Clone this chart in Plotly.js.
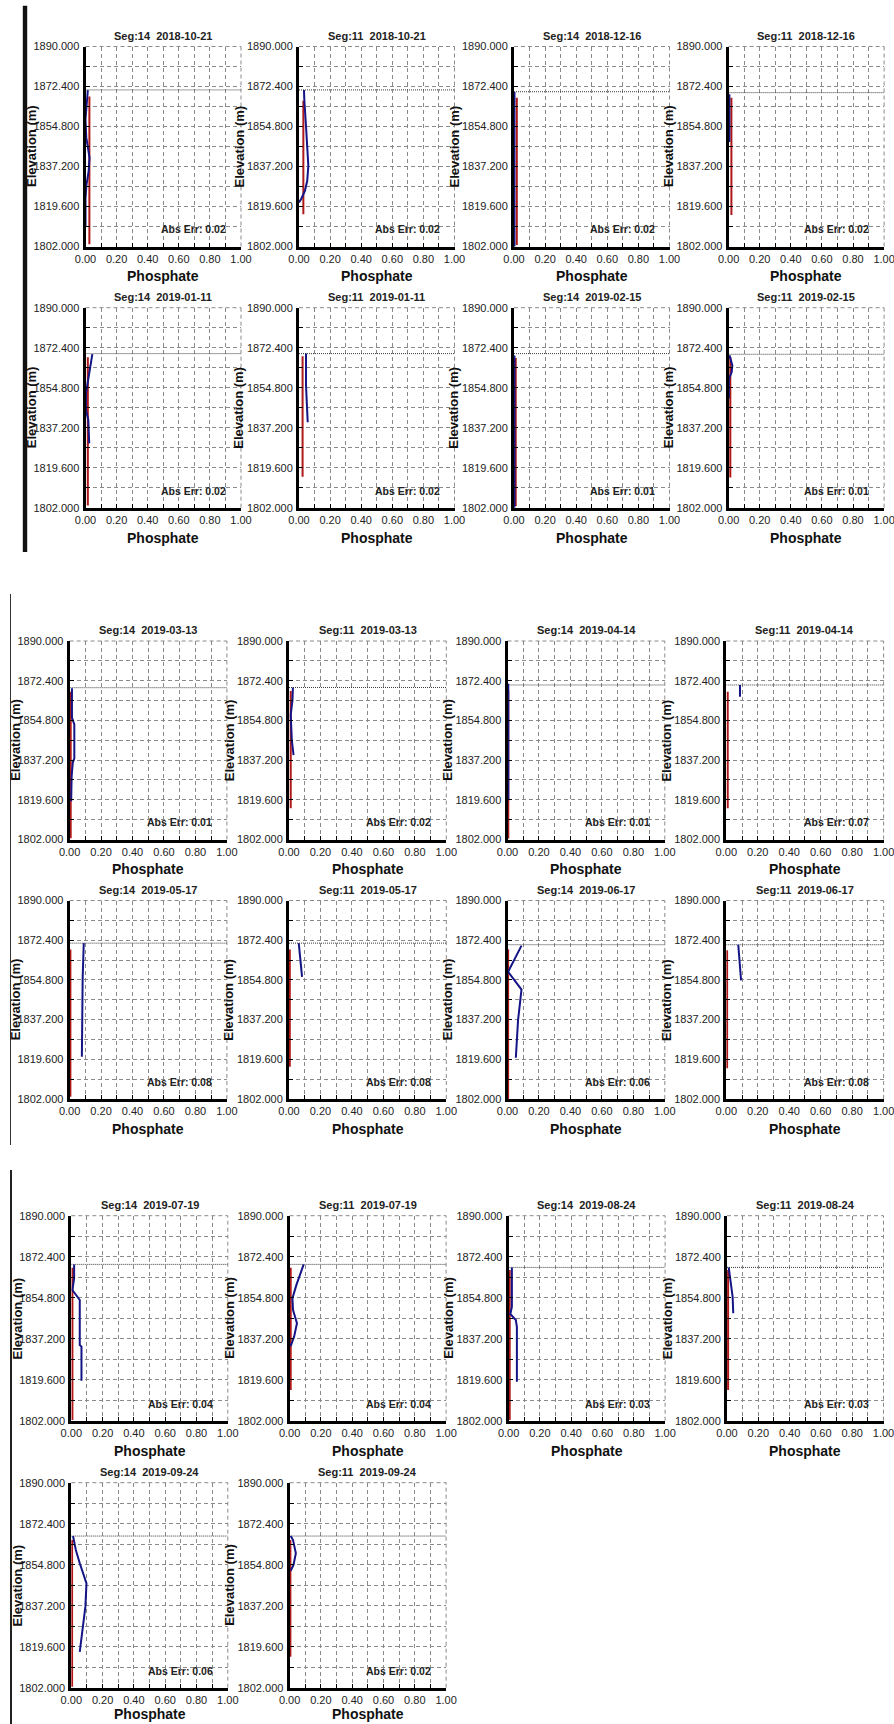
<!DOCTYPE html>
<html><head><meta charset="utf-8">
<script src="https://cdn.plot.ly/plotly-3.0.1.min.js"></script>
<style>html,body{margin:0;padding:0;background:#fff;}#chart{width:894px;height:1724px;}</style>
</head><body><div id="chart"></div>
<script>
// ---------------- data ----------------
const segments = [14,11,14,11, 14,11,14,11, 14,11,14,11, 14,11,14,11, 14,11,14,11, 14,11];
const dates = ["2018-10-21","2018-10-21","2018-12-16","2018-12-16",
               "2019-01-11","2019-01-11","2019-02-15","2019-02-15",
               "2019-03-13","2019-03-13","2019-04-14","2019-04-14",
               "2019-05-17","2019-05-17","2019-06-17","2019-06-17",
               "2019-07-19","2019-07-19","2019-08-24","2019-08-24",
               "2019-09-24","2019-09-24"];
const absErr = [0.02,0.02,0.02,0.02, 0.02,0.02,0.01,0.01, 0.01,0.02,0.01,0.07,
                0.08,0.08,0.06,0.08, 0.04,0.04,0.03,0.03, 0.06,0.02];
// water surface elevation (dotted line)
const wse = [1870.9,1870.9,1870.1,1869.7, 1869.8,1869.8,1869.8,1869.5,
             1869.3,1869.4,1870.5,1870.5, 1871.1,1871.1,1870.4,1870.4,
             1869.1,1869.1,1867.8,1867.8, 1867.1,1867.1];
// observed (red) vertical line
const obsX = [0.025,0.028,0.018,0.018, 0.015,0.023,0.011,0.011,
              0.007,0.011,0.005,0.009, 0.005,0.005,0.004,0.005,
              0.007,0.007,0.007,0.007, 0.005,0.005];
const obsTop = [1868,1866.1,1867.5,1867.5, 1868.2,1868.6,1867.9,1868.3,
                1867.5,1867.8,1868.2,1867.5, 1868.3,1868.3,1868.4,1867.9,
                1867.7,1867.7,1866.7,1866.7, 1865.4,1865.4];
const obsBottom = [1803,1816.2,1802.7,1815.9, 1803,1815.6,1802.7,1815.3,
                   1802.6,1815.8,1802.4,1815.8, 1803,1816.3,1802,1815.6,
                   1802.3,1815.2,1802.3,1815.2, 1802.4,1815.3];
// simulated (blue) profiles
const simX = [
  [0.015,0.008,0.0,0.005,0.026,0.02,0.006,0.0,0.0],
  [0.032,0.034,0.045,0.053,0.06,0.053,0.038,0.013,0.0],
  [0.003,0.003],
  [0.005,0.005],
  [0.044,0.003,0.003,0.018,0.024],
  [0.045,0.045,0.056],
  [0.003,0.003],
  [0.006,0.024,0.02,0.002,0.002],
  [0.015,0.015,0.03,0.03,0.02,0.013,0.01],
  [0.025,0.022,0.011,0.018,0.029],
  [0.005,0.005],
  [0.087,0.087],
  [0.09,0.083,0.078],
  [0.062,0.072,0.083],
  [0.089,0.004,0.089,0.067,0.053],
  [0.076,0.084,0.094],
  [0.018,0.018,0.007,0.029,0.054,0.054,0.065,0.065],
  [0.09,0.043,0.018,0.022,0.047,0.029,0.007],
  [0.021,0.021,0.011,0.046,0.053,0.053],
  [0.011,0.018,0.036,0.04],
  [0.011,0.029,0.054,0.079,0.097,0.09,0.072,0.054],
  [0.007,0.022,0.04,0.025,0.007]
];
const simY = [
  [1870.8,1866,1858,1850,1841,1835,1829,1823,1811],
  [1870.9,1866.8,1855,1846.3,1837.5,1830.9,1826.5,1822.8,1821.4],
  [1870,1801],
  [1869,1848],
  [1869.6,1852.3,1845,1840.6,1830.3],
  [1869.8,1855.8,1839.6],
  [1869,1802],
  [1869.1,1864.6,1861.7,1858.7,1850],
  [1869,1856,1853,1838,1836,1830,1819],
  [1869.4,1863.8,1857.2,1846,1839.4],
  [1871,1819.4],
  [1870.5,1865.3],
  [1871.1,1855.4,1820.7],
  [1871.1,1864.2,1856.1],
  [1870,1858.4,1850.5,1836.9,1820.3],
  [1870.4,1862.7,1854.6],
  [1869.1,1863.1,1858.1,1856,1853.8,1834.5,1833.8,1819.2],
  [1869.1,1860.2,1854.5,1849.5,1843.8,1838.1,1834],
  [1867.8,1850.9,1847.8,1845.2,1842.3,1818.7],
  [1867.8,1864.5,1855.2,1848.1],
  [1867.1,1861.1,1855.4,1850.4,1846.8,1836.8,1828.2,1817.4],
  [1867.1,1865.4,1859.7,1854.7,1852.2]
];
const xTickVals = [0,0.2,0.4,0.6,0.8,1.0];
const xMinorVals = [0.1,0.3,0.5,0.7,0.9];
const yTickVals = [1802,1819.6,1837.2,1854.8,1872.4,1890];
const yMinorVals = [1810.8,1828.4,1846,1863.6,1881.2];
const xTitle = "Phosphate";
const yTitle = "Elevation (m)";

// ---------------- layout geometry ----------------
const W = 894, H = 1724;
const groups = [
  {rows:[46.5,307.7], h:200, cols:[85.5,299,514,728.6], w:155.5, n:8},
  {rows:[641,900.5], h:198.5, cols:[69.6,289,507.5,726.3], w:157.3, n:8},
  {rows:[1215.7,1482.7], h:205, cols:[71.3,289.6,508.6,727], w:156.5, n:6}
];
const boxes = [];
groups.forEach((g, gi) => {
  for (let k = 0; k < g.n; k++) {
    const r = Math.floor(k/4), c = k%4;
    boxes.push({l:g.cols[c], t:g.rows[r], w:g.w, h:g.h, col:c, last:(gi===2 && r===1)});
  }
});

const FONT = "Liberation Sans, Arial, sans-serif";
const gridColor = "#8a8a8a";
const gridDash = "4px,3px";
const traces = [], annotations = [], shapes = [];
const layout = {
  width: W, height: H, margin:{l:0,r:0,t:0,b:0},
  paper_bgcolor:"#fff", plot_bgcolor:"#fff", showlegend:false,
  font:{family:FONT, color:"#222"}
};

boxes.forEach((b, i) => {
  const n = i + 1;
  const xs = n === 1 ? "" : String(n);
  const xr = "x" + xs, yr = "y" + xs;
  const common = {
    ticks:"inside", ticklen:4, tickwidth:1, tickcolor:"#000",
    showline:true, linewidth:3, linecolor:"#000",
    showgrid:true, gridcolor:gridColor, gridwidth:1, griddash:gridDash,
    zeroline:false, fixedrange:true, ticklabeloverflow:"allow",
    tickfont:{family:FONT, size:11, color:"#222"}
  };
  layout["xaxis"+xs] = Object.assign({}, common, {
    domain:[b.l/W, (b.l+b.w)/W], anchor:yr, range:[0,1],
    tickmode:"array", tickvals:xTickVals, tickformat:".2f",
    minor:{tickmode:"array", tickvals:xMinorVals, ticks:"inside", ticklen:4, tickcolor:"#000",
           showgrid:true, gridcolor:gridColor, griddash:gridDash, gridwidth:1}
  });
  layout["yaxis"+xs] = Object.assign({}, common, {
    domain:[1-(b.t+b.h)/H, 1-b.t/H], anchor:xr, range:[1802,1890],
    tickmode:"array", tickvals:yTickVals, tickformat:".3f", ticklabelstandoff:1,
    minor:{tickmode:"array", tickvals:yMinorVals, ticks:"inside", ticklen:4, tickcolor:"#000",
           showgrid:true, gridcolor:gridColor, griddash:gridDash, gridwidth:1}
  });
  // top and right dashed borders
  shapes.push({type:"line", xref:xr+" domain", yref:yr+" domain", x0:0, x1:1, y0:1, y1:1,
               line:{color:gridColor, width:1, dash:gridDash}, layer:"below"});
  shapes.push({type:"line", xref:xr+" domain", yref:yr+" domain", x0:1, x1:1, y0:0, y1:1,
               line:{color:gridColor, width:1, dash:gridDash}, layer:"below"});
  // water surface dotted line
  traces.push({type:"scatter", mode:"lines", xaxis:xr, yaxis:yr, x:[0,1], y:[wse[i],wse[i]],
               line:{color:"#3a3a3a", width:1, dash:"1px,1px"}, hoverinfo:"skip"});
  // observed
  traces.push({type:"scatter", mode:"lines", xaxis:xr, yaxis:yr,
               x:[obsX[i],obsX[i]], y:[obsTop[i],obsBottom[i]],
               line:{color:"#b01818", width:2}, hoverinfo:"skip"});
  // simulated
  traces.push({type:"scatter", mode:"lines", xaxis:xr, yaxis:yr, x:simX[i], y:simY[i],
               line:{color:"#141486", width:2}, hoverinfo:"skip"});
  // texts
  annotations.push({xref:xr+" domain", yref:yr+" domain", x:0.5, y:1, yshift:11,
    xanchor:"center", yanchor:"middle", showarrow:false,
    text:"Seg:"+segments[i]+"\u00a0\u00a0"+dates[i],
    font:{family:FONT, size:11, weight:700, color:"#222"}});
  annotations.push({xref:xr+" domain", yref:yr+" domain", x:0.5, y:0, yshift:(b.last ? -26 : -30),
    xanchor:"center", yanchor:"middle", showarrow:false, text:xTitle,
    font:{family:FONT, size:14, weight:700, color:"#111"}});
  annotations.push({xref:xr+" domain", yref:yr+" domain", x:0, y:0.5,
    xshift:(b.col===0 ? -54 : -60), xanchor:"center", yanchor:"middle", textangle:-90,
    showarrow:false, text:yTitle, font:{family:FONT, size:13, weight:700, color:"#111"}});
  annotations.push({xref:xr+" domain", yref:yr+" domain", x:1, y:0, xshift:-13, yshift:17,
    xanchor:"right", yanchor:"middle", showarrow:false,
    text:"Abs Err: "+absErr[i].toFixed(2),
    font:{family:FONT, size:10.5, weight:700, color:"#222"}});
});

// page-edge markers of the three pasted groups
shapes.push({type:"rect", xref:"paper", yref:"paper", x0:22.8/W, x1:27.2/W, y0:1-552/H, y1:1-5.7/H,
             fillcolor:"#111", line:{width:0}});
shapes.push({type:"line", xref:"paper", yref:"paper", x0:10.5/W, x1:10.5/W, y0:1-1145/H, y1:1-594/H,
             line:{color:"#333", width:1}});
shapes.push({type:"line", xref:"paper", yref:"paper", x0:11/W, x1:11/W, y0:0, y1:1-1170/H,
             line:{color:"#222", width:2}});

layout.annotations = annotations;
layout.shapes = shapes;
Plotly.newPlot("chart", traces, layout, {staticPlot:true, displayModeBar:false});
</script></body></html>
